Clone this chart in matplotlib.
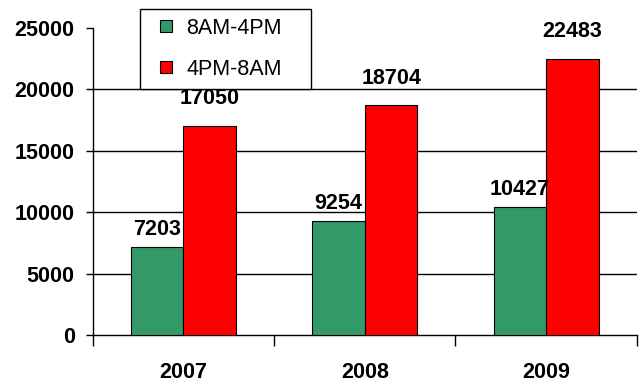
import matplotlib.pyplot as plt
import numpy as np
from matplotlib.ticker import FixedLocator
from matplotlib.lines import Line2D

years = ["2007", "2008", "2009"]
day_calls = [7203, 9254, 10427]
night_calls = [17050, 18704, 22483]
series_names = ["8AM-4PM", "4PM-8AM"]
y_ticks = [0, 5000, 10000, 15000, 20000, 25000]

plt.rcParams["font.family"] = ["Liberation Sans", "DejaVu Sans"]
plt.rcParams["font.weight"] = "bold"
FS = 15.5
green = "#339966"
red = "#FF0000"

fig = plt.figure(figsize=(6.4, 3.87), dpi=100)
ax = fig.add_axes([0.145, 0.134, 0.85, 0.794])

x = np.arange(len(years))
w = 0.29
b1 = ax.bar(x - w / 2, day_calls, w, color=green, edgecolor="black", linewidth=0.8, zorder=3)
b2 = ax.bar(x + w / 2, night_calls, w, color=red, edgecolor="black", linewidth=0.8, zorder=3)

# value labels above bars
for bar in b1:
    h = bar.get_height()
    ax.annotate(f"{h:.0f}", (bar.get_x() + bar.get_width() / 2, h), xytext=(0, 5),
                textcoords="offset points", ha="center", va="bottom", fontsize=FS, fontweight="bold")
for bar in b2:
    h = bar.get_height()
    ax.annotate(f"{h:.0f}", (bar.get_x() + bar.get_width() / 2, h), xytext=(0, 12),
                textcoords="offset points", ha="center", va="bottom", fontsize=FS, fontweight="bold")

ax.set_xlim(-0.5, len(years) - 0.5)
ax.set_ylim(0, 25000)
ax.set_yticks(y_ticks)
ax.set_xticks(x)
ax.set_xticklabels(years)
ax.xaxis.set_minor_locator(FixedLocator(np.arange(-0.5, len(years), 1.0)))
ax.tick_params(axis="x", which="major", length=0, pad=19, labelsize=FS)
ax.tick_params(axis="x", which="minor", length=8, width=1, color="black")
ax.tick_params(axis="y", length=5, width=1, labelsize=FS, pad=8)

for g in y_ticks[1:-1]:
    ax.axhline(g, color="black", linewidth=1, zorder=1)

ax.spines["top"].set_visible(False)
ax.spines["right"].set_visible(False)
ax.spines["left"].set_linewidth(1)
ax.spines["bottom"].set_linewidth(1)

handles = [Line2D([], [], linestyle="none", marker="s", markersize=9,
                  markerfacecolor=c, markeredgecolor="black", markeredgewidth=0.8)
           for c in (green, red)]
leg = fig.legend(handles, series_names, loc="upper left",
                 bbox_to_anchor=(0.219, 0.77, 0.267, 0.207), mode="expand",
                 fontsize=FS, frameon=True, fancybox=False, edgecolor="black",
                 handlelength=1.6, handletextpad=0.15,
                 labelspacing=0.95, borderpad=0.4, borderaxespad=0)
leg.get_frame().set_linewidth(1)
leg.get_frame().set_alpha(1)
for t in leg.get_texts():
    t.set_fontweight("normal")

fig.savefig("out.png", dpi=100)
